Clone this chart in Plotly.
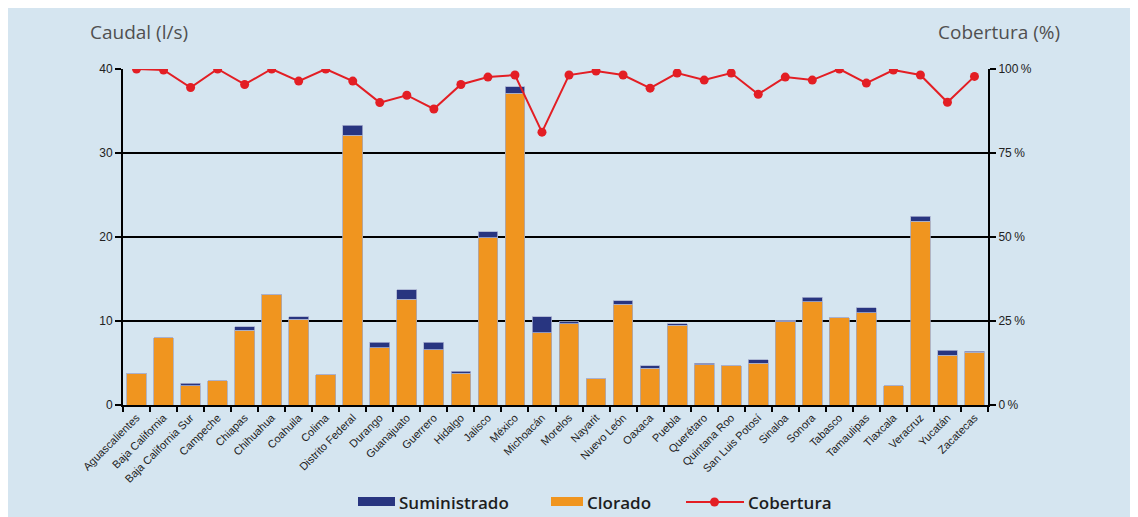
import plotly.graph_objects as go

# Datos
estados = [
    "Aguascalientes", "Baja California", "Baja California Sur", "Campeche", "Chiapas",
    "Chihuahua", "Coahuila", "Colima", "Distrito Federal", "Durango", "Guanajuato",
    "Guerrero", "Hidalgo", "Jalisco", "México", "Michoacán", "Morelos", "Nayarit",
    "Nuevo León", "Oaxaca", "Puebla", "Querétaro", "Quintana Roo", "San Luis Potosí",
    "Sinaloa", "Sonora", "Tabasco", "Tamaulipas", "Tlaxcala", "Veracruz", "Yucatán",
    "Zacatecas",
]
suministrado = [
    3.8, 8.0, 2.6, 2.9, 9.3, 13.2, 10.5, 3.6, 33.3, 7.5, 13.7,
    7.5, 4.0, 20.6, 37.9, 10.5, 9.9, 3.1, 12.4, 4.7, 9.7, 5.0,
    4.7, 5.4, 10.1, 12.8, 10.4, 11.6, 2.3, 22.5, 6.5, 6.4,
]
clorado = [
    3.8, 8.0, 2.3, 2.9, 8.9, 13.2, 10.2, 3.6, 32.1, 6.8, 12.6,
    6.6, 3.8, 19.9, 37.1, 8.6, 9.7, 3.1, 12.0, 4.4, 9.5, 4.8,
    4.7, 5.0, 9.9, 12.3, 10.4, 11.0, 2.3, 21.9, 5.9, 6.3,
]
cobertura = [
    100, 99.7, 94.5, 100, 95.4, 100, 96.4, 100, 96.4, 90.0, 92.2,
    88.1, 95.4, 97.6, 98.2, 81.2, 98.2, 99.4, 98.2, 94.3, 98.8, 96.7,
    98.8, 92.5, 97.6, 96.7, 100, 95.8, 99.7, 98.2, 90.1, 97.8,
]
caudal_ticks = [0, 10, 20, 30, 40]
cobertura_ticks = [0, 25, 50, 75, 100]

AZUL = "#283580"
NARANJA = "#F0951F"
ROJO = "#E31E24"
FONDO = "#D5E5F0"

diferencia = [round(s - c, 2) for s, c in zip(suministrado, clorado)]

fig = go.Figure()
fig.add_trace(go.Bar(
    x=estados, y=clorado, name="Clorado",
    marker=dict(color=NARANJA, line=dict(color="#a8a8b8", width=0.8)),
))
fig.add_trace(go.Bar(
    x=estados, y=diferencia, name="Suministrado",
    marker=dict(color=AZUL, line=dict(color="#a8b0d0", width=0.8)),
))
fig.add_trace(go.Scatter(
    x=estados, y=cobertura, name="Cobertura", yaxis="y2",
    mode="lines+markers",
    line=dict(color=ROJO, width=2),
    marker=dict(color=ROJO, size=9),
))

# the page body puts the figure at (8, 8); plot area on screen: x 123..988, y 69..405
OFF = 8
FW, FH = 1138 - OFF, 517 - OFF
L, R, T, B = 123, 988, 69, 405
W, H = R - L, B - T
def px(x):
    return (x - L) / W
def py(y):
    return (B - y) / H

# leyenda manual
shapes = [
    dict(type="rect", xref="paper", yref="paper",
         x0=px(358), x1=px(395), y0=py(506), y1=py(497),
         fillcolor=AZUL, line=dict(width=0)),
    dict(type="rect", xref="paper", yref="paper",
         x0=px(551), x1=px(583), y0=py(506), y1=py(497),
         fillcolor=NARANJA, line=dict(width=0)),
    dict(type="line", xref="paper", yref="paper",
         x0=px(686), x1=px(744), y0=py(502), y1=py(502),
         line=dict(color=ROJO, width=2)),
    dict(type="circle", xref="paper", yref="paper",
         x0=px(710), x1=px(719), y0=py(506.5), y1=py(497.5),
         fillcolor=ROJO, line=dict(width=0)),
]

title_font = dict(family="Open Sans, Noto Sans, sans-serif", size=19, color="#505050")
legend_font = dict(family="Open Sans, Noto Sans, sans-serif", size=17, color="#1e1e1e", weight=600)
annotations = [
    dict(text="Caudal (l/s)", xref="paper", yref="paper", x=px(88), y=py(32),
         xanchor="left", yanchor="middle", showarrow=False, font=title_font),
    dict(text="Cobertura (%)", xref="paper", yref="paper", x=px(1062), y=py(32),
         xanchor="right", yanchor="middle", showarrow=False, font=title_font),
    dict(text="Suministrado", xref="paper", yref="paper", x=px(397), y=py(502),
         xanchor="left", yanchor="middle", showarrow=False, font=legend_font),
    dict(text="Clorado", xref="paper", yref="paper", x=px(585), y=py(502),
         xanchor="left", yanchor="middle", showarrow=False, font=legend_font),
    dict(text="Cobertura", xref="paper", yref="paper", x=px(746), y=py(502),
         xanchor="left", yanchor="middle", showarrow=False, font=legend_font),
]

tick_font = dict(family="Liberation Sans, Arial, sans-serif", size=12, color="#222222")

fig.update_layout(
    width=FW, height=FH,
    margin=dict(l=L - OFF, r=1138 - R, t=T - OFF, b=517 - B, pad=0),
    paper_bgcolor=FONDO,
    plot_bgcolor=FONDO,
    barmode="stack",
    bargap=0.27,
    showlegend=False,
    shapes=shapes,
    annotations=annotations,
    xaxis=dict(
        type="category", tickangle=-45,
        tickfont=dict(family="Liberation Sans, Arial, sans-serif", size=11, color="#222222"),
        showline=True, linecolor="black", linewidth=2,
        ticks="outside", tickson="boundaries", ticklen=5, tickwidth=2, tickcolor="black",
        showgrid=False, range=[-0.5, len(estados) - 0.5],
    ),
    yaxis=dict(
        range=[0, 40], tickvals=caudal_ticks, tickfont=tick_font,
        showline=True, linecolor="black", linewidth=2,
        ticks="outside", ticklen=6, tickwidth=2, tickcolor="black",
        showgrid=True, gridcolor="black", gridwidth=1.5, zeroline=False,
    ),
    yaxis2=dict(
        range=[0, 100], tickvals=cobertura_ticks, overlaying="y", side="right",
        ticktext=[f"{v}\u2009%" for v in cobertura_ticks],
        tickfont=tick_font,
        showline=True, linecolor="black", linewidth=2,
        ticks="outside", ticklen=6, tickwidth=2, tickcolor="black",
        showgrid=False, zeroline=False,
    ),
)

fig.write_html("out.html")
